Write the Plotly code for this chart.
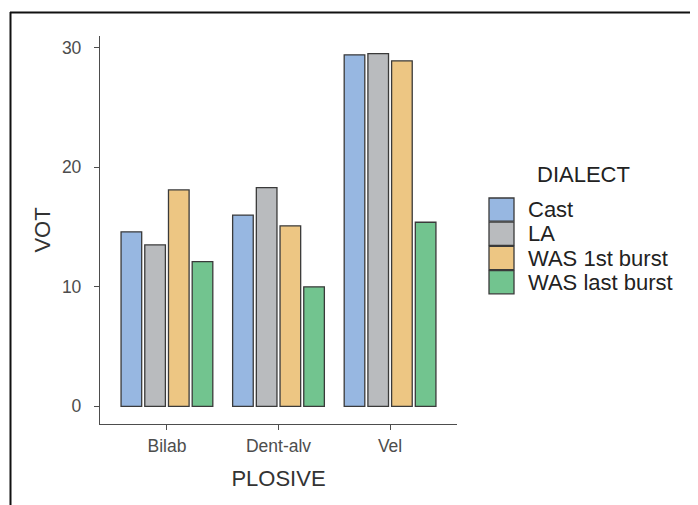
import plotly.graph_objects as go

plosive = ["Bilab", "Dent-alv", "Vel"]
dialects = ["Cast", "LA", "WAS 1st burst", "WAS last burst"]
cast = [14.6, 16.0, 29.4]
la = [13.5, 18.3, 29.5]
was_first = [18.1, 15.1, 28.9]
was_last = [12.1, 10.0, 15.4]
series = [cast, la, was_first, was_last]
colors = ["#97B7E1", "#B9BBBE", "#EDC683", "#72C48F"]
y_ticks = [0, 10, 20, 30]

# page body has an 8px margin: compensate so the window matches the reference
OFF = 8
WIN_W, WIN_H = 698, 505
W, H = WIN_W - OFF, WIN_H - OFF
# plot area in window pixels: x 100..457, y 36..424
L, T = 100 - OFF, 36 - OFF
R = W - (457 - OFF)
B = H - (424 - OFF)
pw, ph = W - L - R, H - T - B

def px_x(p):  # window pixel -> paper
    return (p - OFF - L) / pw

def px_y(p):
    return (H - B - (p - OFF)) / ph

FONT = "Liberation Sans, Arial, Helvetica, sans-serif"

fig = go.Figure()
for name, vals, col in zip(dialects, series, colors):
    fig.add_trace(go.Bar(
        x=plosive, y=vals, name=name,
        marker=dict(color=col, line=dict(color="#3a3a3a", width=1.3)),
        showlegend=False,
    ))

shapes = []
annotations = []
# frame lines
shapes.append(dict(type="line", xref="paper", yref="paper",
                   x0=px_x(10), x1=px_x(WIN_W + 5), y0=px_y(12.5), y1=px_y(12.5),
                   line=dict(color="#111111", width=2)))
shapes.append(dict(type="line", xref="paper", yref="paper",
                   x0=px_x(10.5), x1=px_x(10.5), y0=px_y(12), y1=px_y(WIN_H + 5),
                   line=dict(color="#111111", width=2)))

# manual legend
key_x0, key_x1 = 489, 514
row_top, row_h = 197.5, 24.2
for i, (name, col) in enumerate(zip(dialects, colors)):
    y0 = row_top + i * row_h
    shapes.append(dict(type="rect", xref="paper", yref="paper",
                       x0=px_x(key_x0), x1=px_x(key_x1),
                       y0=px_y(y0 + 0.5), y1=px_y(y0 + row_h - 0.5),
                       fillcolor=col, line=dict(color="#3a3a3a", width=1.3)))
    annotations.append(dict(xref="paper", yref="paper", x=px_x(526), y=px_y(y0 + row_h / 2),
                            text=name, showarrow=False, xanchor="left", yanchor="middle",
                            font=dict(family=FONT, size=22, color="#222222")))
annotations.append(dict(xref="paper", yref="paper", x=px_x(583), y=px_y(175),
                        text="DIALECT", showarrow=False, xanchor="center", yanchor="middle",
                        font=dict(family=FONT, size=22, color="#222222")))

fig.update_layout(
    width=W, height=H,
    margin=dict(l=L, r=R, t=T, b=B, pad=0),
    paper_bgcolor="white", plot_bgcolor="white",
    barmode="group", bargap=0.15, bargroupgap=0.13,
    font=dict(family=FONT, color="#333333"),
    shapes=shapes, annotations=annotations,
    showlegend=False,
)
fig.update_xaxes(
    type="category", range=[-0.6, 2.6],
    showline=True, linecolor="#4d4d4d", linewidth=1.3,
    ticks="outside", ticklen=5, tickcolor="#4d4d4d", tickwidth=1.3,
    tickfont=dict(family=FONT, size=17.5, color="#4d4d4d"),
    ticklabelstandoff=1,
    showgrid=False, zeroline=False,
    title=dict(text="PLOSIVE", font=dict(family=FONT, size=22, color="#333333"), standoff=15),
)
fig.update_yaxes(
    range=[-1.475, 30.975], tickvals=y_ticks,
    showline=True, linecolor="#4d4d4d", linewidth=1.3,
    ticks="outside", ticklen=5, tickcolor="#4d4d4d", tickwidth=1.3,
    tickfont=dict(family=FONT, size=17.5, color="#4d4d4d"),
    ticklabelstandoff=9,
    showgrid=False, zeroline=False,
    title=dict(text="VOT", font=dict(family=FONT, size=22, color="#333333"), standoff=5),
)

fig.write_html("out.html")
